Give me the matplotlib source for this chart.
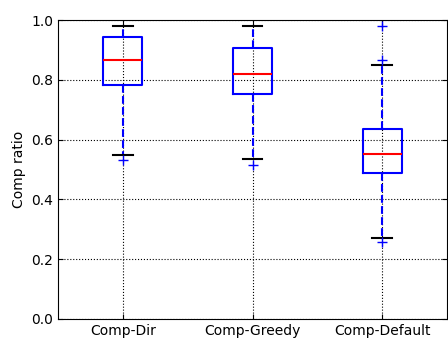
import matplotlib
matplotlib.use('Agg')
import matplotlib.pyplot as plt

labels = ['Comp-Dir', 'Comp-Greedy', 'Comp-Default']
q1 = [0.783, 0.753, 0.487]
med = [0.866, 0.819, 0.553]
q3 = [0.943, 0.906, 0.634]
whislo = [0.548, 0.536, 0.270]
whishi = [0.980, 0.980, 0.849]
fliers = [[0.532], [0.516], [0.259, 0.866, 0.980]]

stats = []
for i in range(len(labels)):
    stats.append({'label': labels[i], 'q1': q1[i], 'med': med[i], 'q3': q3[i],
                  'whislo': whislo[i], 'whishi': whishi[i], 'fliers': fliers[i]})

fig = plt.figure(figsize=(4.48, 3.41), dpi=100)
ax = fig.add_axes([58/448, 22/341, 389/448, 299/341])
ax.bxp(stats, widths=0.3,
       boxprops=dict(color='blue', linewidth=1.5),
       whiskerprops=dict(color='blue', linestyle='--', linewidth=1.5),
       capprops=dict(color='black', linewidth=1.5),
       medianprops=dict(color='red', linewidth=1.5),
       flierprops=dict(marker='+', markeredgecolor='blue', markersize=7, linestyle='none'))
ax.set_xlim(0.5, 3.5)
ax.set_ylim(0.0, 1.0)
ax.set_yticks([0.0, 0.2, 0.4, 0.6, 0.8, 1.0])
ax.grid(True, color='black', linestyle=':', linewidth=0.8)
ax.tick_params(direction='in', top=True, right=True, labelsize=10)
ax.set_ylabel('Comp ratio', fontsize=10)
fig.savefig('out.png', dpi=100)
